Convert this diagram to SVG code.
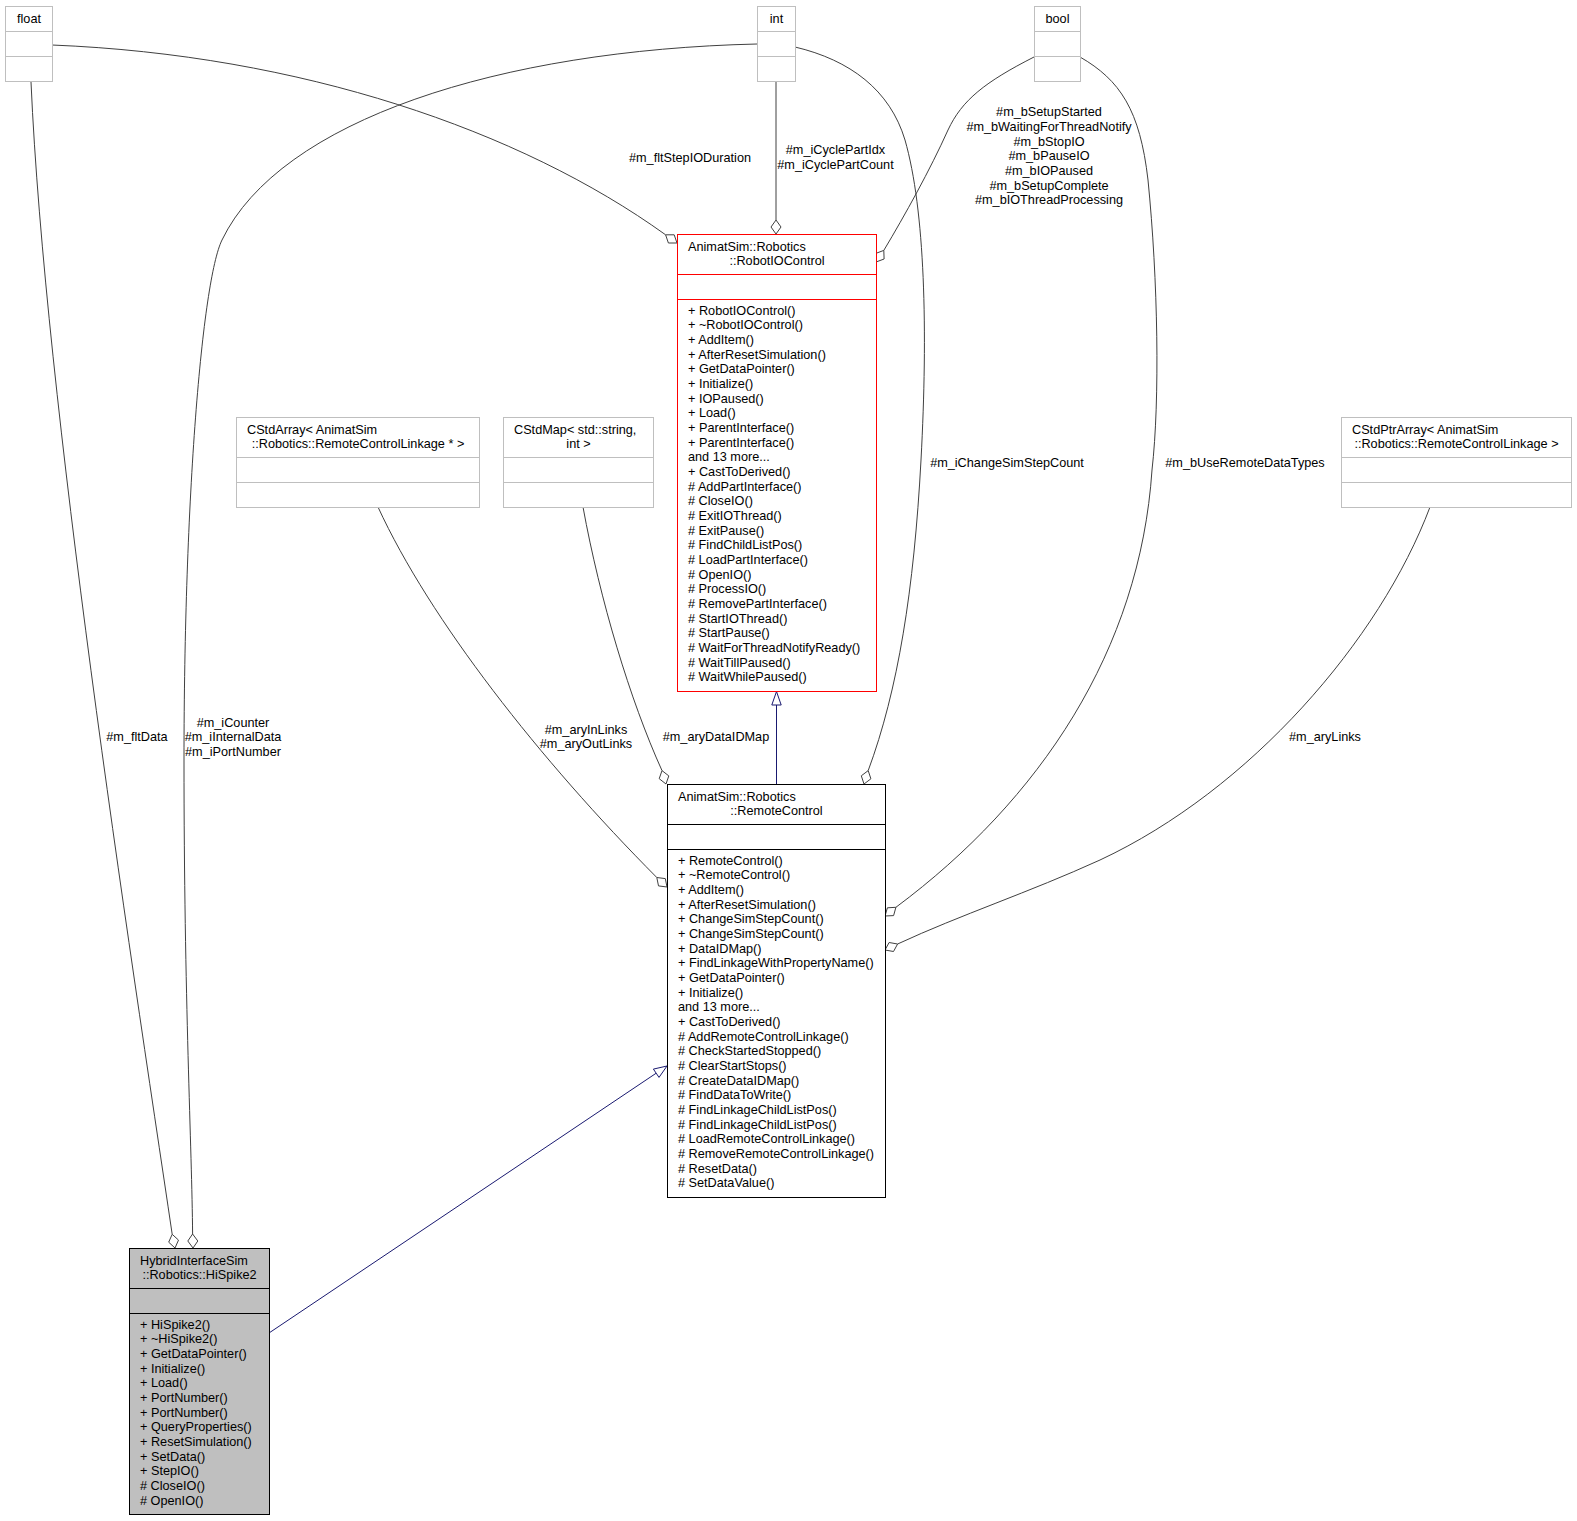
<svg xmlns="http://www.w3.org/2000/svg" width="1577" height="1521" viewBox="0 0 1577 1521">
<style>
text{font-family:"Liberation Sans",Arial,sans-serif;font-size:12.7px;fill:#000}
.c{text-anchor:middle}
.g{fill:#fff;stroke:#bfbfbf;stroke-width:1}
.gl{stroke:#bfbfbf;stroke-width:1}
.r{fill:#fff;stroke:#ff0000;stroke-width:1}
.rl{stroke:#ff0000;stroke-width:1}
.b{fill:#fff;stroke:#000;stroke-width:1}
.bl{stroke:#000;stroke-width:1}
.h{fill:#bfbfbf;stroke:#000;stroke-width:1}
.e{fill:none;stroke:#404040;stroke-width:1}
.d{fill:#fff;stroke:#404040;stroke-width:1}
.i{fill:none;stroke:#191970;stroke-width:1}
.it{fill:#fff;stroke:#191970;stroke-width:1}
</style>
<rect width="1577" height="1521" fill="#fff"/>
<g id="connectors">
<!-- float -> HiSpike2 -->
<path class="e" d="M31,82 C45,400 130,950 172.2,1234.3"/>
<polygon class="d" points="175,1248 178.5,1240.1 172.2,1234.3 168.7,1242.2"/>
<text class="c" x="137" y="740.5">#m_fltData</text>
<!-- int -> HiSpike2 -->
<path class="e" d="M757,44 C500,50 280,120 222,240 C202,281 184,500 184,760 C184,1000 192,1150 192.6,1234"/>
<polygon class="d" points="193,1248 197.8,1241 192.6,1234 187.8,1241"/>
<text class="c" x="233" y="726.5">#m_iCounter</text>
<text class="c" x="233" y="741.2">#m_iInternalData</text>
<text class="c" x="233" y="755.9">#m_iPortNumber</text>
<!-- float -> RobotIOControl -->
<path class="e" d="M52,45 C300,55 520,130 665.6,234.8"/>
<polygon class="d" points="677,243 668.4,243 665.6,234.8 674.2,234.8"/>
<text class="c" x="690" y="161.5">#m_fltStepIODuration</text>
<!-- int -> RobotIOControl -->
<path class="e" d="M776,81 L776,220"/>
<polygon class="d" points="776,234 781,227 776,220 771,227"/>
<text class="c" x="835.5" y="153.5">#m_iCyclePartIdx</text>
<text class="c" x="835.5" y="168.5">#m_iCyclePartCount</text>
<!-- bool -> RobotIOControl -->
<path class="e" d="M1034,57 C985,82 962,100 948,130 C930,170 905,215 883.8,250.4"/>
<polygon class="d" points="876,262 884.1,259 883.8,250.4 875.8,253.4"/>
<text class="c" x="1049" y="116.1">#m_bSetupStarted</text>
<text class="c" x="1049" y="130.8">#m_bWaitingForThreadNotify</text>
<text class="c" x="1049" y="145.5">#m_bStopIO</text>
<text class="c" x="1049" y="160.2">#m_bPauseIO</text>
<text class="c" x="1049" y="174.9">#m_bIOPaused</text>
<text class="c" x="1049" y="189.6">#m_bSetupComplete</text>
<text class="c" x="1049" y="204.3">#m_bIOThreadProcessing</text>
<!-- int -> RemoteControl -->
<path class="e" d="M795,47 C850,60 890,90 905,140 C925,210 928,330 921,460 C914,590 898,690 868.2,770.6"/>
<polygon class="d" points="864,784 870.9,778.8 868.2,770.6 861.3,775.8"/>
<text class="c" x="1007" y="466.5">#m_iChangeSimStepCount</text>
<!-- bool -> RemoteControl -->
<path class="e" d="M1080,57 C1120,80 1140,110 1148,180 C1158,280 1160,400 1152,470 C1140,650 1040,800 895.9,907.3"/>
<polygon class="d" points="885,916 893.6,915.6 895.9,907.3 887.4,907.8"/>
<text class="c" x="1245" y="466.5">#m_bUseRemoteDataTypes</text>
<!-- CStdArray -> RemoteControl -->
<path class="e" d="M378,507 C430,620 540,760 656.8,877.5"/>
<polygon class="d" points="667,887 658.5,885.9 656.8,877.5 665.3,878.6"/>
<text class="c" x="586" y="733.6">#m_aryInLinks</text>
<text class="c" x="586" y="748.3">#m_aryOutLinks</text>
<!-- CStdMap -> RemoteControl -->
<path class="e" d="M583,507 C600,600 630,700 662,770.6"/>
<polygon class="d" points="666,784 659.2,778.7 662,770.6 668.8,775.9"/>
<text class="c" x="716" y="740.5">#m_aryDataIDMap</text>
<!-- CStdPtrArray -> RemoteControl -->
<path class="e" d="M1430,507 C1380,640 1250,790 1100,860 C1030,892 960,915 897.6,944"/>
<polygon class="d" points="885,950 893.5,951.5 897.6,944 889.1,942.5"/>
<text class="c" x="1325" y="740.5">#m_aryLinks</text>
<!-- inheritance RemoteControl -> RobotIOControl -->
<path class="i" d="M776.5,784 L776.5,705"/>
<polygon class="it" points="776.5,691.5 781.2,705 771.8,705"/>
<!-- inheritance HiSpike2 -> RemoteControl -->
<path class="i" d="M269,1333 L656.2,1073.2"/>
<polygon class="it" points="667,1066 659,1077.4 653.4,1069.1"/>
</g>
<g id="float">
<rect class="g" x="5.5" y="6.5" width="47" height="75"/>
<line class="gl" x1="5.5" y1="31.5" x2="52.5" y2="31.5"/>
<line class="gl" x1="5.5" y1="56.5" x2="52.5" y2="56.5"/>
<text class="c" x="29" y="23">float</text>
</g>
<g id="int">
<rect class="g" x="757.5" y="6.5" width="38" height="75"/>
<line class="gl" x1="757.5" y1="31.5" x2="795.5" y2="31.5"/>
<line class="gl" x1="757.5" y1="56.5" x2="795.5" y2="56.5"/>
<text class="c" x="776.5" y="23">int</text>
</g>
<g id="bool">
<rect class="g" x="1034.5" y="6.5" width="46" height="75"/>
<line class="gl" x1="1034.5" y1="31.5" x2="1080.5" y2="31.5"/>
<line class="gl" x1="1034.5" y1="56.5" x2="1080.5" y2="56.5"/>
<text class="c" x="1057.5" y="23">bool</text>
</g>
<g id="cstdarray">
<rect class="g" x="236.5" y="417.5" width="243" height="90"/>
<line class="gl" x1="236.5" y1="457.5" x2="479.5" y2="457.5"/>
<line class="gl" x1="236.5" y1="482.5" x2="479.5" y2="482.5"/>
<text x="247" y="433.5">CStdArray&lt; AnimatSim</text>
<text class="c" x="358" y="448">::Robotics::RemoteControlLinkage * &gt;</text>
</g>
<g id="cstdmap">
<rect class="g" x="503.5" y="417.5" width="150" height="90"/>
<line class="gl" x1="503.5" y1="457.5" x2="653.5" y2="457.5"/>
<line class="gl" x1="503.5" y1="482.5" x2="653.5" y2="482.5"/>
<text x="514" y="433.5">CStdMap&lt; std::string,</text>
<text class="c" x="578.5" y="448">int &gt;</text>
</g>
<g id="cstdptrarray">
<rect class="g" x="1341.5" y="417.5" width="230" height="90"/>
<line class="gl" x1="1341.5" y1="457.5" x2="1571.5" y2="457.5"/>
<line class="gl" x1="1341.5" y1="482.5" x2="1571.5" y2="482.5"/>
<text x="1352" y="433.5">CStdPtrArray&lt; AnimatSim</text>
<text class="c" x="1456.5" y="448">::Robotics::RemoteControlLinkage &gt;</text>
</g>
<g id="robotiocontrol">
<rect class="r" x="677.5" y="234.5" width="199" height="457"/>
<line class="rl" x1="677.5" y1="274.5" x2="876.5" y2="274.5"/>
<line class="rl" x1="677.5" y1="299.5" x2="876.5" y2="299.5"/>
<text x="688" y="250.5">AnimatSim::Robotics</text>
<text class="c" x="777" y="265">::RobotIOControl</text>
<text x="688" y="314.5"><tspan x="688">+ RobotIOControl()</tspan><tspan x="688" dy="14.68">+ ~RobotIOControl()</tspan><tspan x="688" dy="14.68">+ AddItem()</tspan><tspan x="688" dy="14.68">+ AfterResetSimulation()</tspan><tspan x="688" dy="14.68">+ GetDataPointer()</tspan><tspan x="688" dy="14.68">+ Initialize()</tspan><tspan x="688" dy="14.68">+ IOPaused()</tspan><tspan x="688" dy="14.68">+ Load()</tspan><tspan x="688" dy="14.68">+ ParentInterface()</tspan><tspan x="688" dy="14.68">+ ParentInterface()</tspan><tspan x="688" dy="14.68">and 13 more...</tspan><tspan x="688" dy="14.68">+ CastToDerived()</tspan><tspan x="688" dy="14.68"># AddPartInterface()</tspan><tspan x="688" dy="14.68"># CloseIO()</tspan><tspan x="688" dy="14.68"># ExitIOThread()</tspan><tspan x="688" dy="14.68"># ExitPause()</tspan><tspan x="688" dy="14.68"># FindChildListPos()</tspan><tspan x="688" dy="14.68"># LoadPartInterface()</tspan><tspan x="688" dy="14.68"># OpenIO()</tspan><tspan x="688" dy="14.68"># ProcessIO()</tspan><tspan x="688" dy="14.68"># RemovePartInterface()</tspan><tspan x="688" dy="14.68"># StartIOThread()</tspan><tspan x="688" dy="14.68"># StartPause()</tspan><tspan x="688" dy="14.68"># WaitForThreadNotifyReady()</tspan><tspan x="688" dy="14.68"># WaitTillPaused()</tspan><tspan x="688" dy="14.68"># WaitWhilePaused()</tspan></text>
</g>
<g id="remotecontrol">
<rect class="b" x="667.5" y="784.5" width="218" height="413"/>
<line class="bl" x1="667.5" y1="824.5" x2="885.5" y2="824.5"/>
<line class="bl" x1="667.5" y1="849.5" x2="885.5" y2="849.5"/>
<text x="678" y="800.5">AnimatSim::Robotics</text>
<text class="c" x="776.5" y="815">::RemoteControl</text>
<text x="678" y="864.5"><tspan x="678">+ RemoteControl()</tspan><tspan x="678" dy="14.68">+ ~RemoteControl()</tspan><tspan x="678" dy="14.68">+ AddItem()</tspan><tspan x="678" dy="14.68">+ AfterResetSimulation()</tspan><tspan x="678" dy="14.68">+ ChangeSimStepCount()</tspan><tspan x="678" dy="14.68">+ ChangeSimStepCount()</tspan><tspan x="678" dy="14.68">+ DataIDMap()</tspan><tspan x="678" dy="14.68">+ FindLinkageWithPropertyName()</tspan><tspan x="678" dy="14.68">+ GetDataPointer()</tspan><tspan x="678" dy="14.68">+ Initialize()</tspan><tspan x="678" dy="14.68">and 13 more...</tspan><tspan x="678" dy="14.68">+ CastToDerived()</tspan><tspan x="678" dy="14.68"># AddRemoteControlLinkage()</tspan><tspan x="678" dy="14.68"># CheckStartedStopped()</tspan><tspan x="678" dy="14.68"># ClearStartStops()</tspan><tspan x="678" dy="14.68"># CreateDataIDMap()</tspan><tspan x="678" dy="14.68"># FindDataToWrite()</tspan><tspan x="678" dy="14.68"># FindLinkageChildListPos()</tspan><tspan x="678" dy="14.68"># FindLinkageChildListPos()</tspan><tspan x="678" dy="14.68"># LoadRemoteControlLinkage()</tspan><tspan x="678" dy="14.68"># RemoveRemoteControlLinkage()</tspan><tspan x="678" dy="14.68"># ResetData()</tspan><tspan x="678" dy="14.68"># SetDataValue()</tspan></text>
</g>
<g id="hispike2">
<rect class="h" x="129.5" y="1248.5" width="140" height="266"/>
<line class="bl" x1="129.5" y1="1288.5" x2="269.5" y2="1288.5"/>
<line class="bl" x1="129.5" y1="1313.5" x2="269.5" y2="1313.5"/>
<text x="140" y="1264.5">HybridInterfaceSim</text>
<text class="c" x="199.5" y="1279">::Robotics::HiSpike2</text>
<text x="140" y="1328.5"><tspan x="140">+ HiSpike2()</tspan><tspan x="140" dy="14.68">+ ~HiSpike2()</tspan><tspan x="140" dy="14.68">+ GetDataPointer()</tspan><tspan x="140" dy="14.68">+ Initialize()</tspan><tspan x="140" dy="14.68">+ Load()</tspan><tspan x="140" dy="14.68">+ PortNumber()</tspan><tspan x="140" dy="14.68">+ PortNumber()</tspan><tspan x="140" dy="14.68">+ QueryProperties()</tspan><tspan x="140" dy="14.68">+ ResetSimulation()</tspan><tspan x="140" dy="14.68">+ SetData()</tspan><tspan x="140" dy="14.68">+ StepIO()</tspan><tspan x="140" dy="14.68"># CloseIO()</tspan><tspan x="140" dy="14.68"># OpenIO()</tspan></text>
</g>
</svg>
